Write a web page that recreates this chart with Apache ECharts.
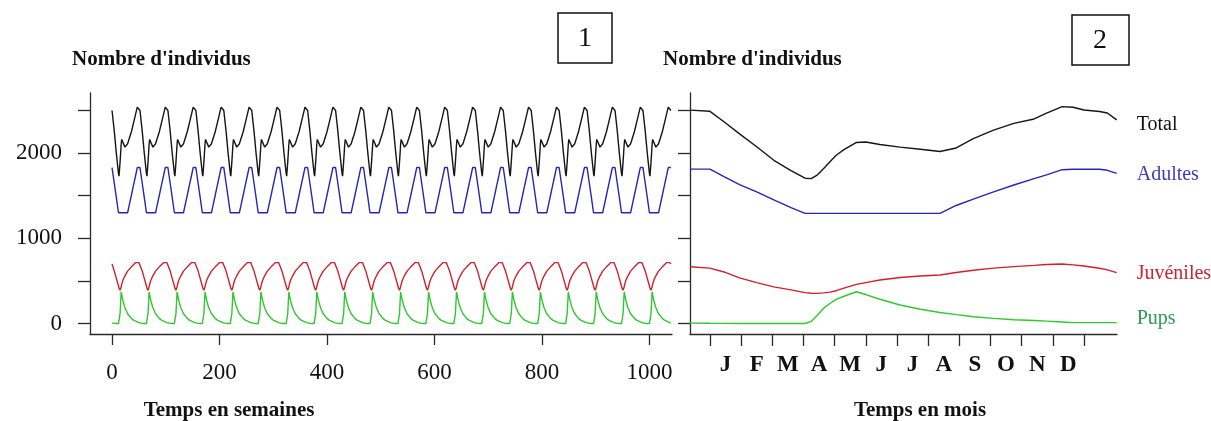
<!DOCTYPE html>
<html>
<head>
<meta charset="utf-8">
<script src="https://cdn.jsdelivr.net/npm/echarts@6/dist/echarts.min.js"></script>
<style>
  html, body { margin: 0; padding: 0; background: #fff; }
  #chart { width: 1211px; height: 421px; }
</style>
</head>
<body>
<div id="chart"></div>
<script>
// ---------- panel 1 : one yearly cycle (week of the year), repeated over 20 years
const cycleWeeks     = [0, 4, 8, 12, 13, 15, 17, 18, 20, 24, 29, 31, 36, 40, 44, 47, 48, 50];
const cycleTotal     = [2500, 2270, 2000, 1760, 1730, 1900, 2100, 2160, 2130, 2070, 2110, 2120, 2250, 2355, 2460, 2540, 2560, 2530];
const cycleAdults    = [1830, 1655, 1480, 1300, 1300, 1300, 1300, 1300, 1300, 1300, 1300, 1360, 1505, 1625, 1740, 1830, 1830, 1830];
const cycleJuveniles = [700, 620, 530, 440, 415, 390, 430, 460, 505, 560, 615, 630, 665, 690, 715, 730, 728, 715];
const cyclePups      = [5, 2, 0, 0, 0, 120, 370, 350, 275, 185, 115, 95, 60, 40, 28, 20, 18, 10];
const nbYears = 20;
const weekTicks = [0, 200, 400, 600, 800, 1000];

// ---------- panel 2 : one year, in months (0 = 1st of January)
const months        = [-0.64, 0, 0.45, 0.95, 1.5, 2.05, 2.6, 3.05, 3.25, 3.45, 3.65, 3.85, 4.05, 4.3, 4.7, 5.0,
                       5.45, 6.1, 6.75, 7.38, 7.9, 8.45, 9.1, 9.75, 10.4, 10.8, 11.3, 11.65, 12.0, 12.5, 12.75, 13.05];
const yearTotal     = [2504, 2490, 2367, 2225, 2074, 1915, 1795, 1705, 1700, 1745, 1820, 1898, 1975, 2040, 2125, 2130,
                       2100, 2070, 2045, 2018, 2060, 2170, 2270, 2348, 2400, 2470, 2545, 2538, 2505, 2488, 2470, 2390];
const yearAdults    = [1812, 1812, 1725, 1630, 1545, 1450, 1360, 1293, 1293, 1293, 1293, 1293, 1293, 1293, 1293, 1293,
                       1293, 1293, 1293, 1293, 1385, 1460, 1545, 1625, 1700, 1745, 1805, 1810, 1810, 1810, 1798, 1762];
const yearJuveniles = [666, 650, 605, 535, 480, 430, 395, 362, 356, 354, 360, 368, 385, 415, 460, 480,
                       510, 540, 557, 569, 598, 625, 650, 668, 682, 692, 698, 688, 675, 648, 630, 598];
const yearPups      = [5, 3, 2, 1, 0, 0, 0, 0, 25, 100, 180, 235, 284, 320, 373, 340,
                       285, 217, 167, 130, 105, 80, 60, 45, 35, 28, 18, 10, 10, 10, 10, 10];
const monthLetters = ['J', 'F', 'M', 'A', 'M', 'J', 'J', 'A', 'S', 'O', 'N', 'D'];

// ---------- shared
const countTicks  = [0, 500, 1000, 1500, 2000, 2500];
const countLabels = [0, 1000, 2000];
const seriesNames = ['Total', 'Adultes', 'Juvéniles', 'Pups'];
const lineColors  = ['#151515', '#2626b4', '#d0202e', '#2fc82f'];
const labelColors = ['#111111', '#3c3cc0', '#cc2233', '#2a9d50'];
const labelOffsets = [5, 1, 1, -4];

const SERIF = '"Liberation Serif", "Times New Roman", serif';

/**
 * repeat the yearly cycle over all the years
 */
function repeatCycle(values) {
  let out = [];
  for (let y = 0; y < nbYears; y++) {
    for (let i = 0; i < cycleWeeks.length; i++) {
      out.push([y * 52 + cycleWeeks[i], values[i]]);
    }
  }
  out.push([nbYears * 52, values[0]]);
  return out;
}

function yearData(values) {
  return months.map((m, i) => [m, values[i]]);
}

function axisLine() {
  return { show: true, onZero: false, lineStyle: { color: '#2a2a2a', width: 1.3 } };
}

function plainNumber(v) {
  return String(v);
}

function getOptions() {
  const cycles = [cycleTotal, cycleAdults, cycleJuveniles, cyclePups];
  const years = [yearTotal, yearAdults, yearJuveniles, yearPups];
  let series = [];

  cycles.forEach((vals, i) => {
    series.push({
      name: seriesNames[i], type: 'line', xAxisIndex: 0, yAxisIndex: 0,
      data: repeatCycle(vals), showSymbol: false, symbol: 'none',
      lineStyle: { color: lineColors[i], width: 1.4 }
    });
  });

  years.forEach((vals, i) => {
    series.push({
      name: seriesNames[i], type: 'line', xAxisIndex: 1, yAxisIndex: 1,
      data: yearData(vals), showSymbol: false, symbol: 'none',
      lineStyle: { color: lineColors[i], width: 1.4 },
      endLabel: {
        show: true, formatter: seriesNames[i], distance: 20, offset: [0, labelOffsets[i]],
        color: labelColors[i], fontFamily: SERIF, fontSize: 20
      }
    });
  });

  return {
    animation: false,
    backgroundColor: '#fff',
    grid: [
      { left: 90, top: 93, width: 582, height: 241 },
      { left: 690, top: 93, width: 427, height: 241 }
    ],
    xAxis: [
      {
        type: 'value', gridIndex: 0, min: -41, max: 1042,
        axisLine: axisLine(), splitLine: { show: false },
        axisTick: { customValues: weekTicks, length: 11, lineStyle: { color: '#2a2a2a', width: 1.3 } },
        axisLabel: { customValues: weekTicks, formatter: plainNumber, margin: 27, color: '#111', fontFamily: SERIF, fontSize: 23 }
      },
      {
        type: 'value', gridIndex: 1, min: -0.64, max: 13.06,
        axisLine: axisLine(), splitLine: { show: false },
        axisTick: { customValues: [0, 1, 2, 3, 4, 5, 6, 7, 8, 9, 10, 11, 12], length: 12, lineStyle: { color: '#2a2a2a', width: 1.3 } },
        axisLabel: {
          customValues: [0.5, 1.5, 2.5, 3.5, 4.5, 5.5, 6.5, 7.5, 8.5, 9.5, 10.5, 11.5],
          formatter: (v) => monthLetters[Math.floor(v)],
          margin: 20, color: '#111', fontFamily: SERIF, fontSize: 23, fontWeight: 'bold'
        }
      }
    ],
    yAxis: [
      {
        type: 'value', gridIndex: 0, min: -123, max: 2705,
        axisLine: axisLine(), splitLine: { show: false },
        axisTick: { customValues: countTicks, length: 12, lineStyle: { color: '#2a2a2a', width: 1.3 } },
        axisLabel: { customValues: countLabels, formatter: plainNumber, margin: 28, color: '#111', fontFamily: SERIF, fontSize: 23 }
      },
      {
        type: 'value', gridIndex: 1, min: -123, max: 2705,
        axisLine: axisLine(), splitLine: { show: false },
        axisTick: { customValues: countTicks, length: 12, lineStyle: { color: '#2a2a2a', width: 1.3 } },
        axisLabel: { show: false }
      }
    ],
    series: series,
    graphic: [
      { type: 'text', x: 72, y: 60, style: { text: "Nombre d'individus", font: 'bold 21px ' + SERIF, fill: '#111', verticalAlign: 'middle' } },
      { type: 'text', x: 663, y: 60, style: { text: "Nombre d'individus", font: 'bold 21px ' + SERIF, fill: '#111', verticalAlign: 'middle' } },
      { type: 'text', x: 229, y: 411, style: { text: 'Temps en semaines', font: 'bold 21px ' + SERIF, fill: '#111', align: 'center', verticalAlign: 'middle' } },
      { type: 'text', x: 920, y: 411, style: { text: 'Temps en mois', font: 'bold 21px ' + SERIF, fill: '#111', align: 'center', verticalAlign: 'middle' } },
      { type: 'rect', shape: { x: 558, y: 13, width: 54, height: 50 }, style: { fill: 'none', stroke: '#111', lineWidth: 1.5 } },
      { type: 'text', x: 585, y: 39, style: { text: '1', font: '28px ' + SERIF, fill: '#111', align: 'center', verticalAlign: 'middle' } },
      { type: 'rect', shape: { x: 1072, y: 15, width: 57, height: 50 }, style: { fill: 'none', stroke: '#111', lineWidth: 1.5 } },
      { type: 'text', x: 1100, y: 41, style: { text: '2', font: '28px ' + SERIF, fill: '#111', align: 'center', verticalAlign: 'middle' } }
    ]
  };
}

/**
 * init chart
 */
function initChart() {
  let chartDom = document.getElementById('chart');
  let chart = echarts.init(chartDom, null, { renderer: 'canvas' });
  chart.setOption(getOptions());
}

initChart();
</script>
</body>
</html>
